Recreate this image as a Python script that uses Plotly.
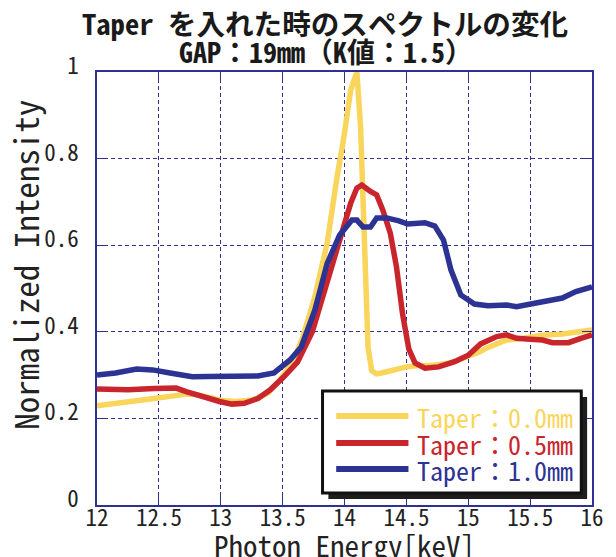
import plotly.graph_objects as go

# Photon energy [keV] and normalized intensity for each taper setting
energy_t00 = [12.0, 12.14, 12.30, 12.46, 12.62, 12.72, 12.80, 12.90, 13.0, 13.11,
              13.25, 13.38, 13.48, 13.59, 13.66, 13.76, 13.86, 13.94, 13.99, 14.05,
              14.10, 14.13, 14.15, 14.17, 14.19, 14.22, 14.26, 14.30, 14.40, 14.50,
              14.60, 14.71, 14.85, 14.97, 15.08, 15.16, 15.31, 15.44, 15.60, 15.76,
              15.87, 16.0]
intensity_t00 = [0.229, 0.235, 0.242, 0.246, 0.252, 0.256, 0.255, 0.249, 0.242, 0.239,
                 0.242, 0.258, 0.289, 0.335, 0.385, 0.480, 0.605, 0.758, 0.840, 0.958,
                 1.0, 0.873, 0.700, 0.530, 0.365, 0.310, 0.303, 0.305, 0.313, 0.319,
                 0.322, 0.322, 0.328, 0.340, 0.352, 0.364, 0.381, 0.385, 0.392, 0.395,
                 0.400, 0.404]

energy_t05 = [12.0, 12.25, 12.46, 12.64, 12.72, 12.85, 12.99, 13.09, 13.19, 13.30,
              13.40, 13.51, 13.62, 13.74, 13.86, 13.97, 14.05, 14.10, 14.14, 14.21,
              14.26, 14.31, 14.37, 14.42, 14.47, 14.52, 14.57, 14.65, 14.76, 14.89,
              15.0, 15.10, 15.23, 15.31, 15.39, 15.50, 15.60, 15.68, 15.81, 15.91, 16.0]
intensity_t05 = [0.268, 0.266, 0.269, 0.270, 0.262, 0.250, 0.239, 0.233, 0.235, 0.246,
                 0.266, 0.296, 0.330, 0.400, 0.513, 0.612, 0.697, 0.732, 0.739, 0.724,
                 0.716, 0.681, 0.628, 0.550, 0.440, 0.360, 0.328, 0.316, 0.319, 0.331,
                 0.346, 0.372, 0.389, 0.393, 0.385, 0.383, 0.381, 0.375, 0.375, 0.385,
                 0.393]

energy_t10 = [12.0, 12.15, 12.32, 12.45, 12.59, 12.77, 12.90, 13.03, 13.30, 13.43,
              13.56, 13.65, 13.76, 13.86, 13.96, 14.06, 14.10, 14.15, 14.21, 14.26,
              14.34, 14.44, 14.51, 14.65, 14.73, 14.80, 14.86, 14.94, 15.05, 15.16,
              15.31, 15.39, 15.50, 15.60, 15.65, 15.76, 15.87, 16.0]
intensity_t10 = [0.300, 0.305, 0.314, 0.312, 0.305, 0.296, 0.297, 0.298, 0.298, 0.305,
                 0.335, 0.365, 0.450, 0.558, 0.623, 0.658, 0.658, 0.642, 0.642, 0.663,
                 0.663, 0.656, 0.649, 0.652, 0.644, 0.612, 0.543, 0.485, 0.464, 0.460,
                 0.462, 0.458, 0.464, 0.467, 0.472, 0.478, 0.493, 0.504]

series_names = ["Taper：0.0mm", "Taper：0.5mm", "Taper：1.0mm"]
series_colors = ["#FAD55C", "#C9252C", "#2C3393"]

x_ticks = [12, 12.5, 13, 13.5, 14, 14.5, 15, 15.5, 16]
x_tick_text = ["12", "12.5", "13", "13.5", "14", "14.5", "15", "15.5", "16"]
y_ticks = [0, 0.2, 0.4, 0.6, 0.8, 1]
y_tick_text = ["0", "0.2", "0.4", "0.6", "0.8", "1"]

FONT = "Noto Sans Mono CJK JP, Noto Sans CJK JP, sans-serif"
AXIS_BLUE = "#2E3192"

W, H = 616, 557
ML, MR, MT, MB = 97, 12, 72, 52
PW, PH = W - ML - MR, H - MT - MB


def px(xp):
    return (xp - ML) / PW


def py(yp):
    return (H - MB - yp) / PH


fig = go.Figure()
for xs, ys, name, color in zip(
    [energy_t00, energy_t05, energy_t10],
    [intensity_t00, intensity_t05, intensity_t10],
    series_names, series_colors,
):
    fig.add_trace(go.Scatter(
        x=xs, y=ys, mode="lines", name=name, showlegend=False,
        line=dict(color=color, width=5.5),
    ))

axis_common = dict(
    showline=True, linecolor=AXIS_BLUE, linewidth=1.5, mirror="ticks",
    ticks="inside", ticklen=10, tickcolor=AXIS_BLUE, tickwidth=1.2,
    showgrid=True, gridcolor=AXIS_BLUE, gridwidth=1, griddash="4px,3px",
    zeroline=False,
    tickfont=dict(family=FONT, size=23, color="#222222"),
)

fig.update_xaxes(range=[12, 16], tickvals=x_ticks, ticktext=x_tick_text,
                 ticklabelstandoff=-8, **axis_common)
fig.update_yaxes(range=[0, 1], tickvals=y_ticks, ticktext=y_tick_text,
                 ticklabelstandoff=12, ticklabelshift=-6, **axis_common)

annotations = [
    dict(text="<b>Taper を入れた時のスペクトルの変化</b>", x=px(331), y=py(23),
         font=dict(family=FONT, size=28.6, color="#1a1a1a")),
    dict(text="<b>GAP：19mm（K値：1.5）</b>", x=px(332), y=py(51),
         font=dict(family=FONT, size=28, color="#1a1a1a")),
    dict(text="Photon Energy[keV]", x=px(350), y=py(544),
         font=dict(family=FONT, size=29, color="#222222")),
    dict(text="Normalized Intensity", x=px(23), y=py(265), textangle=-90,
         font=dict(family=FONT, size=33, color="#222222")),
]
for a in annotations:
    a.update(xref="paper", yref="paper", xanchor="center", yanchor="middle",
             showarrow=False)

# Legend box with drop shadow
box_l, box_r, box_t, box_b = 328, 593, 391, 493
shapes = [
    dict(type="rect", xref="paper", yref="paper",
         x0=px(box_l + 6), x1=px(box_r + 6), y0=py(box_b + 6), y1=py(box_t + 6),
         fillcolor="#1e1e1e", line=dict(width=0), layer="above"),
    dict(type="rect", xref="paper", yref="paper",
         x0=px(box_l), x1=px(box_r), y0=py(box_b), y1=py(box_t),
         fillcolor="white", line=dict(color="#111111", width=3), layer="above"),
]
row_y = [416, 443, 469]
for name, color, ry in zip(series_names, series_colors, row_y):
    shapes.append(dict(type="line", xref="paper", yref="paper",
                       x0=px(342), x1=px(416), y0=py(ry), y1=py(ry),
                       line=dict(color=color, width=6), layer="above"))
    annotations.append(dict(text=name, xref="paper", yref="paper",
                            x=px(423), y=py(ry), xanchor="left", yanchor="middle",
                            showarrow=False,
                            font=dict(family=FONT, size=26, color=color)))

fig.update_layout(
    width=W, height=H,
    margin=dict(l=ML, r=MR, t=MT, b=MB),
    paper_bgcolor="white", plot_bgcolor="white",
    annotations=annotations, shapes=shapes,
)

fig.write_html("out.html")
